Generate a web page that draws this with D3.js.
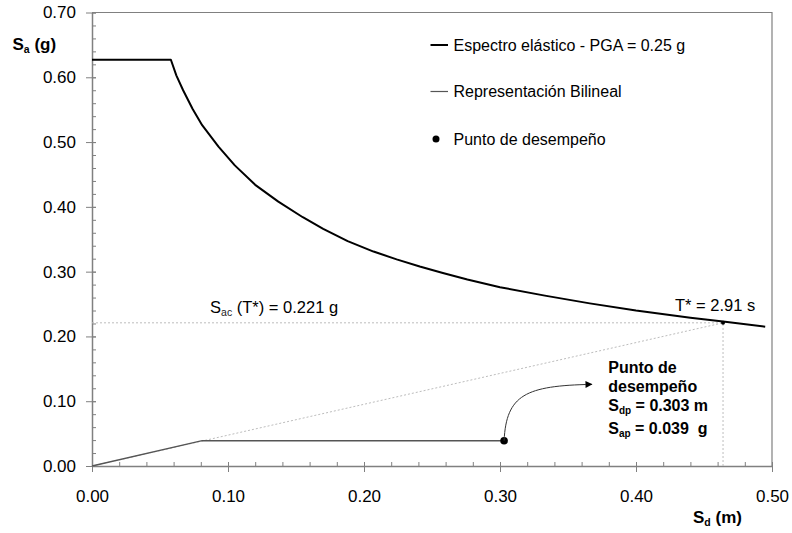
<!DOCTYPE html>
<html>
<head>
<meta charset="utf-8">
<title>Espectro de capacidad - punto de desempeño</title>
<script src="https://cdnjs.cloudflare.com/ajax/libs/d3/7.8.5/d3.min.js"></script>
<style>
	body { margin: 0; background: #fff; }
	svg { display: block; font-family: "Liberation Sans", Arial, sans-serif; }
	.tick text { font-size: 17px; fill: #000; }
</style>
</head>
<body>
<svg id="chart" width="792" height="533"></svg>
<script>

	// espectro elastico (Sd en m, Sa en g)
	var spectrumSd = [0, 0.058, 0.062, 0.067, 0.074, 0.081, 0.093, 0.105, 0.120, 0.137, 0.155, 0.170, 0.188, 0.207, 0.224, 0.241, 0.258, 0.276, 0.300, 0.333, 0.366, 0.400, 0.440, 0.464, 0.495];
	var spectrumSa = [0.627, 0.627, 0.603, 0.580, 0.551, 0.526, 0.493, 0.464, 0.434, 0.408, 0.384, 0.366, 0.347, 0.331, 0.319, 0.308, 0.298, 0.288, 0.276, 0.263, 0.251, 0.240, 0.229, 0.223, 0.215];

	// representacion bilineal
	var bilinearSd = [0, 0.081, 0.303];
	var bilinearSa = [0, 0.039, 0.039];

	// punto de desempeño y T*
	var perfPoint = [0.303, 0.039];
	var tStarPoint = [0.464, 0.221];

	var xTicks = [0, 0.1, 0.2, 0.3, 0.4, 0.5];
	var yTicks = [0, 0.1, 0.2, 0.3, 0.4, 0.5, 0.6, 0.7];

	var legendLabels = ["Espectro elástico - PGA = 0.25 g", "Representación Bilineal", "Punto de desempeño"];

	var svg = d3.select("#chart");

	var x = d3.scaleLinear().domain([0, 0.5]).range([92, 772]);
	var y = d3.scaleLinear().domain([0, 0.7]).range([466, 12.5]);

	var gray = "#808080";
	var fmt = d3.format(".2f");

	// marco
	svg.append("path")
		.attr("d", "M" + x(0) + "," + y(0.7) + "H" + x(0.5) + "V" + y(0))
		.attr("fill", "none")
		.attr("stroke", gray)
		.attr("stroke-width", 1.2);

	// ticks menores (hacia adentro)
	var minorX = d3.range(0, 0.5001, 0.02);
	var minorY = d3.range(0, 0.7001, 0.02);

	svg.append("g")
		.attr("transform", "translate(0," + y(0) + ")")
		.call(d3.axisTop(x).tickValues(minorX).tickSize(4).tickFormat(""))
		.call(function(g) { g.select(".domain").remove(); g.selectAll("line").attr("stroke", gray); });

	svg.append("g")
		.attr("transform", "translate(" + x(0) + ",0)")
		.call(d3.axisRight(y).tickValues(minorY).tickSize(4).tickFormat(""))
		.call(function(g) { g.select(".domain").remove(); g.selectAll("line").attr("stroke", gray); });

	// ejes principales
	var xAxis = svg.append("g")
		.attr("transform", "translate(0," + y(0) + ")")
		.call(d3.axisBottom(x).tickValues(xTicks).tickFormat(fmt).tickSize(6).tickPadding(18).tickSizeOuter(0));
	xAxis.selectAll("line").attr("y1", -4).attr("stroke", gray);
	xAxis.select(".domain").attr("stroke", gray).attr("stroke-width", 1.5);
	xAxis.attr("font-family", null).attr("font-size", null);

	var yAxis = svg.append("g")
		.attr("transform", "translate(" + x(0) + ",0)")
		.call(d3.axisLeft(y).tickValues(yTicks).tickFormat(fmt).tickSize(6).tickPadding(10).tickSizeOuter(0));
	yAxis.selectAll("line").attr("x1", 4).attr("stroke", gray);
	yAxis.select(".domain").attr("stroke", gray).attr("stroke-width", 1.5);
	yAxis.attr("font-family", null).attr("font-size", null);

	// lineas punteadas auxiliares
	var dotted = [
		[[0, tStarPoint[1]], tStarPoint],
		[[tStarPoint[0], 0], tStarPoint],
		[[0, 0], tStarPoint]
	];
	svg.append("g").selectAll("line")
		.data(dotted)
		.join("line")
		.attr("x1", function(d) { return x(d[0][0]); })
		.attr("y1", function(d) { return y(d[0][1]); })
		.attr("x2", function(d) { return x(d[1][0]); })
		.attr("y2", function(d) { return y(d[1][1]); })
		.attr("stroke", "#bdbdbd")
		.attr("stroke-width", 1)
		.attr("stroke-dasharray", "2,2");

	var line = d3.line()
		.x(function(d) { return x(d[0]); })
		.y(function(d) { return y(d[1]); });

	// representacion bilineal
	svg.append("path")
		.datum(d3.zip(bilinearSd, bilinearSa))
		.attr("fill", "none")
		.attr("stroke", "#555")
		.attr("stroke-width", 1.3)
		.attr("d", line);

	// espectro
	svg.append("path")
		.datum(d3.zip(spectrumSd, spectrumSa))
		.attr("fill", "none")
		.attr("stroke", "#000")
		.attr("stroke-width", 2)
		.attr("stroke-linejoin", "round")
		.attr("d", line);

	// puntos
	svg.append("circle")
		.attr("cx", x(perfPoint[0])).attr("cy", y(perfPoint[1]))
		.attr("r", 3.8).attr("fill", "#000");
	svg.append("circle")
		.attr("cx", x(tStarPoint[0])).attr("cy", y(tStarPoint[1]))
		.attr("r", 2).attr("fill", "#000");

	// flecha
	svg.append("defs").append("marker")
		.attr("id", "arrow")
		.attr("viewBox", "0 0 10 10")
		.attr("refX", 9).attr("refY", 5)
		.attr("markerWidth", 9).attr("markerHeight", 7)
		.attr("markerUnits", "userSpaceOnUse")
		.attr("orient", "auto")
		.append("path").attr("d", "M0,0L10,5L0,10z").attr("fill", "#000");

	var ap = d3.path();
	ap.moveTo(x(perfPoint[0]), y(perfPoint[1]));
	ap.bezierCurveTo(x(0.3047), y(0.110), x(0.3188), y(0.124), x(0.3675), y(0.126));
	svg.append("path")
		.attr("d", ap.toString())
		.attr("fill", "none")
		.attr("stroke", "#333")
		.attr("stroke-width", 1)
		.attr("marker-end", "url(#arrow)");

	// titulos de ejes
	var ty = svg.append("text")
		.attr("x", 12.5).attr("y", 50)
		.attr("font-size", 17).attr("font-weight", "bold");
	ty.append("tspan").text("S");
	ty.append("tspan").attr("font-size", 10.5).attr("dy", 3).text("a");
	ty.append("tspan").attr("dy", -3).text(" (g)");

	var tx = svg.append("text")
		.attr("x", 693).attr("y", 523)
		.attr("font-size", 17).attr("font-weight", "bold");
	tx.append("tspan").text("S");
	tx.append("tspan").attr("font-size", 10.5).attr("dy", 3).text("d");
	tx.append("tspan").attr("dy", -3).text(" (m)");

	// anotaciones
	var sac = svg.append("text")
		.attr("x", x(0.0868)).attr("y", y(0.2357))
		.attr("font-size", 16.5);
	sac.append("tspan").text("S");
	sac.append("tspan").attr("font-size", 10.5).attr("dy", 3).attr("fill", "#222").text("ac");
	sac.append("tspan").attr("dy", -3).text(" (T*) = 0.221 g");

	svg.append("text")
		.attr("x", x(0.4287)).attr("y", y(0.2397))
		.attr("font-size", 16.5)
		.text("T* = 2.91 s");

	var px = x(0.3796);
	var pblock = svg.append("g").attr("font-size", 16).attr("font-weight", "bold");
	pblock.append("text").attr("x", px).attr("y", 373).text("Punto de");
	pblock.append("text").attr("x", px).attr("y", 392).text("desempeño");
	var sdp = pblock.append("text").attr("x", px).attr("y", 411);
	sdp.append("tspan").text("S");
	sdp.append("tspan").attr("font-size", 10).attr("dy", 3).text("dp");
	sdp.append("tspan").attr("dy", -3).text(" = 0.303 m");
	var sap = pblock.append("text").attr("x", px).attr("y", 434);
	sap.append("tspan").text("S");
	sap.append("tspan").attr("font-size", 10).attr("dy", 3).text("ap");
	sap.append("tspan").attr("dy", -3).text(" = 0.039  g").attr("style", "white-space:pre");

	// leyenda
	var legend = svg.append("g").attr("transform", "translate(430,0)");
	var rowY = [45, 91.5, 139];
	legend.append("line").attr("x1", 0.5).attr("x2", 18).attr("y1", rowY[0]).attr("y2", rowY[0])
		.attr("stroke", "#000").attr("stroke-width", 2);
	legend.append("line").attr("x1", 0.5).attr("x2", 18).attr("y1", rowY[1]).attr("y2", rowY[1])
		.attr("stroke", "#555").attr("stroke-width", 1.2);
	legend.append("circle").attr("cx", 6).attr("cy", rowY[2]).attr("r", 3.5).attr("fill", "#000");
	legend.selectAll("text.lab")
		.data(legendLabels)
		.join("text")
		.attr("class", "lab")
		.attr("x", 23.5)
		.attr("y", function(d, i) { return rowY[i] + 5.5; })
		.attr("font-size", 16)
		.text(function(d) { return d; });

</script>
</body>
</html>
